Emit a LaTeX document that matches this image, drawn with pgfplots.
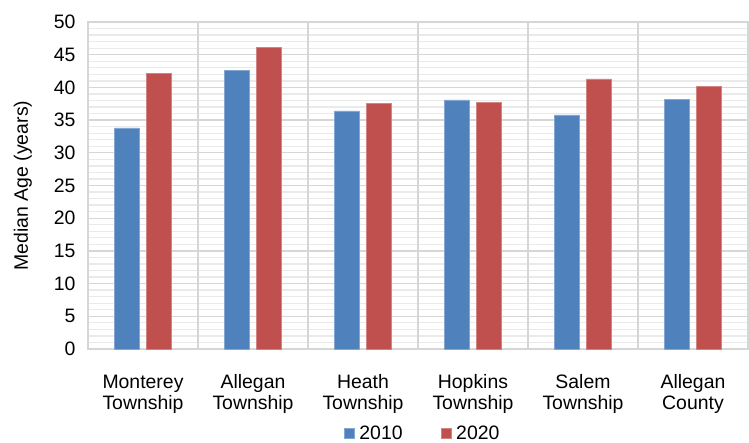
\documentclass[border=0pt]{standalone}
\usepackage{fontspec}
\setmainfont{Liberation Sans}
\usepackage{pgfplots}
\pgfplotsset{compat=1.18}

\definecolor{bar2010}{RGB}{79,129,189}
\definecolor{bar2020}{RGB}{192,80,77}
\definecolor{gridmajor}{RGB}{214,214,214}
\definecolor{gridminor}{RGB}{234,234,234}

\newcommand{\chartfont}{\fontsize{19.5}{21}\selectfont}

\begin{document}
\begin{tikzpicture}
\begin{axis}[
  scale only axis,
  width=660bp, height=327bp,
  at={(0,0)}, anchor=south west,
  ybar=7.5bp, bar width=24.5bp,
  xmin=-0.5, xmax=5.5,
  ymin=0, ymax=50,
  xtick={0,1,2,3,4,5},
  xticklabels={{Monterey\\Township},{Allegan\\Township},{Heath\\Township},{Hopkins\\Township},{Salem\\Township},{Allegan\\County}},
  xticklabel style={align=center, font=\chartfont, yshift=-18bp},
  major x tick style={draw=none},
  extra x ticks={-0.5,0.5,1.5,2.5,3.5,4.5,5.5},
  extra x tick labels={},
  extra x tick style={grid=major, major grid style={draw=gridmajor, line width=1.3pt}, major tick length=0pt},
  ytick={0,5,...,50},
  minor y tick num=4,
  ymajorgrids, yminorgrids,
  major grid style={draw=gridmajor, line width=1.3pt},
  minor grid style={draw=gridminor, line width=1.3pt},
  ytick style={draw=none},
  minor y tick style={draw=none},
  yticklabel style={font=\chartfont, xshift=-9bp},
  /pgf/number format/assume math mode=true,
  axis line style={draw=gridmajor, line width=1.3pt},
  ylabel={Median Age (years)},
  ylabel style={font=\chartfont, yshift=15bp},
  legend columns=2,
  legend style={
    font=\chartfont, draw=none, fill=none,
    at={(0.507,-0.257)}, anchor=center,
    /tikz/every odd column/.append style={column sep=3bp},
    /tikz/every even column/.append style={column sep=36bp},
  },
  legend image code/.code={\fill[#1] (0bp,-5bp) rectangle (10bp,5bp);},
]
\addplot[fill=bar2010, draw=bar2010!70!white, line width=0.6pt] coordinates {
  (0,33.8) (1,42.6) (2,36.4) (3,38.1) (4,35.8) (5,38.2)};
\addplot[fill=bar2020, draw=bar2020!70!white, line width=0.6pt] coordinates {
  (0,42.2) (1,46.1) (2,37.6) (3,37.7) (4,41.3) (5,40.2)};
\legend{2010,2020}
\end{axis}
\pgfresetboundingbox
\path[use as bounding box] (-88bp,-94bp) rectangle (661bp,349bp);
\end{tikzpicture}
\end{document}
